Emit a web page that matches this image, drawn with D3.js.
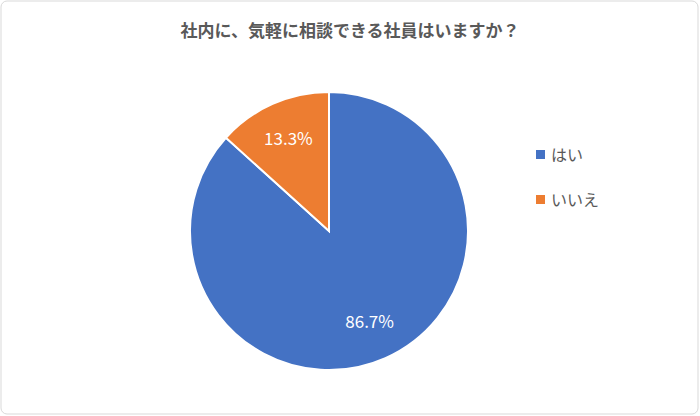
<!DOCTYPE html>
<html><head><meta charset="utf-8">
<script src="https://cdn.jsdelivr.net/npm/d3@7"></script>
<style>body{margin:0;background:#fff;font-family:"Noto Sans CJK JP",sans-serif;}</style>
</head><body>
<svg id="chart" width="700" height="416"></svg>
<script>
// chart data
var categories = ["はい", "いいえ"];
var values = [86.7, 13.3];
var colors = ["#4472C4", "#ED7D31"];
var title = "社内に、気軽に相談できる社員はいますか？";

var svg = d3.select("#chart");
svg.append("rect").attr("x", 1).attr("y", 1).attr("width", 697).attr("height", 413)
    .attr("rx", 6).attr("fill", "#fff").attr("stroke", "#d9d9d9");

svg.append("text").attr("x", 350).attr("y", 37).attr("text-anchor", "middle")
    .attr("font-size", 17).attr("font-weight", "bold").attr("fill", "#595959").text(title);

var cx = 329, cy = 231, r = 139;
var pie = d3.pie().sort(null).value(function(d) { return d; });
var arc = d3.arc().innerRadius(0).outerRadius(r);
var arcs = pie(values);

var g = svg.append("g").attr("transform", "translate(" + cx + "," + cy + ")");
g.selectAll("path").data(arcs).enter().append("path")
    .attr("d", arc)
    .attr("fill", function(d, i) { return colors[i]; })
    .attr("stroke", "#fff").attr("stroke-width", 2);

//labels inside slices
var labelArc = d3.arc().innerRadius(r * 0.72).outerRadius(r * 0.72);
g.selectAll("text").data(arcs).enter().append("text")
    .attr("transform", function(d) { return "translate(" + labelArc.centroid(d) + ")"; })
    .attr("text-anchor", "middle").attr("dy", "0.35em")
    .attr("font-size", 17).attr("fill", "#fff")
    .text(function(d) { return d.value.toFixed(1) + "%"; });

var leg = svg.append("g");
categories.forEach(function(c, i) {
    var y = 155 + i * 45;
    leg.append("rect").attr("x", 536).attr("y", y - 5).attr("width", 9).attr("height", 9).attr("fill", colors[i]);
    leg.append("text").attr("x", 551).attr("y", y).attr("dy", "0.35em")
        .attr("font-size", 16).attr("fill", "#595959").text(c);
});
</script>
</body></html>
